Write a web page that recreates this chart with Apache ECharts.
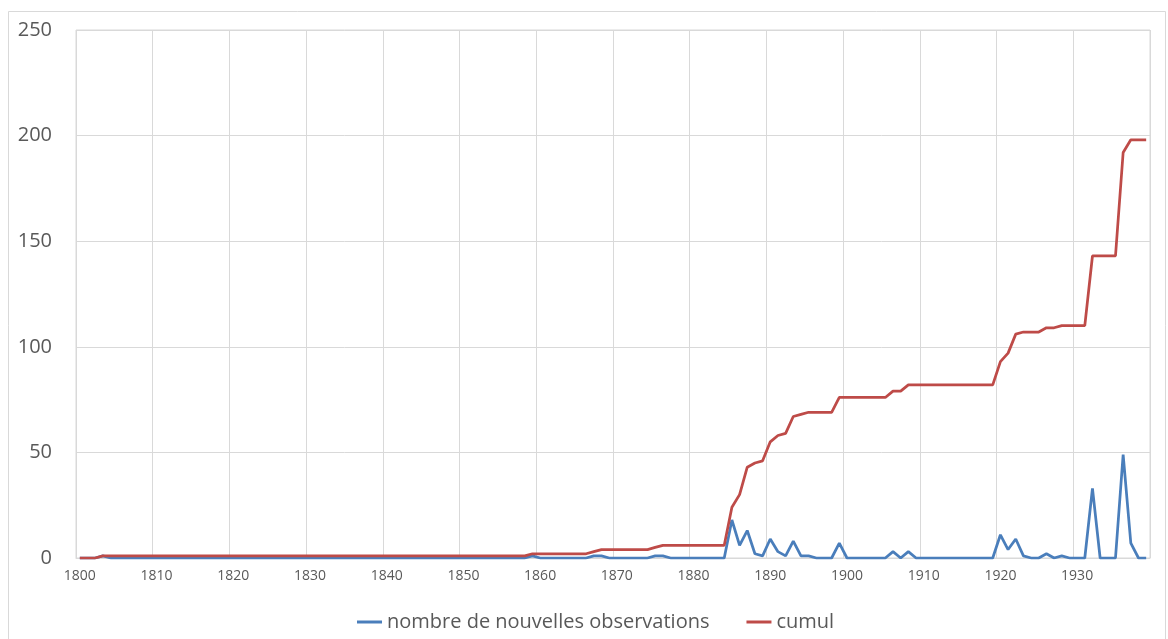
<!DOCTYPE html>
<html>
<head>
<meta charset="utf-8">
<script src="https://cdn.jsdelivr.net/npm/echarts@6/dist/echarts.min.js"></script>
<style>
html,body{margin:0;padding:0;background:#fff;}
#chart{width:1168px;height:639px;}
</style>
</head>
<body>
<div id="chart"></div>
<script>
// Categories: years 1800..1939
var years = [];
for (var y = 1800; y <= 1939; y++) years.push(String(y));

var seriesNames = ['nombre de nouvelles observations', 'cumul'];

// nombre de nouvelles observations (one value per year, 1800..1939)
var nouvelles = [
  0,0,0,1,0,0,0,0,0,0,      // 1800s
  0,0,0,0,0,0,0,0,0,0,      // 1810s
  0,0,0,0,0,0,0,0,0,0,      // 1820s
  0,0,0,0,0,0,0,0,0,0,      // 1830s
  0,0,0,0,0,0,0,0,0,0,      // 1840s
  0,0,0,0,0,0,0,0,0,1,      // 1850s
  0,0,0,0,0,0,0,1,1,0,      // 1860s
  0,0,0,0,0,1,1,0,0,0,      // 1870s
  0,0,0,0,0,18,6,13,2,1,    // 1880s
  9,3,1,8,1,1,0,0,0,7,      // 1890s
  0,0,0,0,0,0,3,0,3,0,      // 1900s
  0,0,0,0,0,0,0,0,0,0,      // 1910s
  11,4,9,1,0,0,2,0,1,0,     // 1920s
  0,0,33,0,0,0,49,7,0,0     // 1930s
];

// cumul (one value per year, 1800..1939)
var cumul = [
  0,0,0,1,1,1,1,1,1,1,
  1,1,1,1,1,1,1,1,1,1,
  1,1,1,1,1,1,1,1,1,1,
  1,1,1,1,1,1,1,1,1,1,
  1,1,1,1,1,1,1,1,1,1,
  1,1,1,1,1,1,1,1,1,2,
  2,2,2,2,2,2,2,3,4,4,
  4,4,4,4,4,5,6,6,6,6,
  6,6,6,6,6,24,30,43,45,46,
  55,58,59,67,68,69,69,69,69,76,
  76,76,76,76,76,76,79,79,82,82,
  82,82,82,82,82,82,82,82,82,82,
  93,97,106,107,107,107,109,109,110,110,
  110,110,143,143,143,143,192,198,198,198
];

var chart = echarts.init(document.getElementById('chart'), null, {renderer: 'canvas'});
var FONT = '"Open Sans", "DejaVu Sans", sans-serif';
chart.setOption({
  animation: false,
  backgroundColor: '#ffffff',
  graphic: [{
    type: 'rect',
    shape: {x: 8.5, y: 11.5, width: 1157, height: 640},
    style: {fill: 'none', stroke: '#D9D9D9', lineWidth: 1},
    silent: true
  }],
  grid: {left: 76, right: 18, top: 30, bottom: 81, containLabel: false,
         show: true, borderColor: '#D9D9D9', borderWidth: 1, backgroundColor: 'transparent'},
  legend: {
    left: 352,
    top: 607,
    icon: 'rect',
    itemWidth: 25,
    itemHeight: 3,
    itemGap: 37,
    textStyle: {fontFamily: FONT, fontSize: 20, color: '#595959'},
    data: seriesNames
  },
  xAxis: {
    type: 'category',
    data: years,
    boundaryGap: true,
    axisLine: {show: true, lineStyle: {color: '#D9D9D9', width: 1}},
    axisTick: {show: false},
    axisLabel: {interval: 9, fontFamily: FONT, fontSize: 14, color: '#595959', margin: 11},
    splitLine: {show: true, interval: 9, lineStyle: {color: '#D9D9D9', width: 1}}
  },
  yAxis: {
    type: 'value',
    min: 0,
    max: 250,
    interval: 50,
    axisLine: {show: false},
    axisTick: {show: false},
    axisLabel: {fontFamily: FONT, fontSize: 20, color: '#595959', margin: 24},
    splitLine: {show: true, lineStyle: {color: '#D9D9D9', width: 1}}
  },
  series: [
    {
      name: seriesNames[0],
      type: 'line',
      data: nouvelles,
      symbol: 'none',
      showSymbol: false,
      lineStyle: {color: '#4A7EBB', width: 2.75},
      itemStyle: {color: '#4A7EBB'}
    },
    {
      name: seriesNames[1],
      type: 'line',
      data: cumul,
      symbol: 'none',
      showSymbol: false,
      lineStyle: {color: '#BE4B48', width: 2.75},
      itemStyle: {color: '#BE4B48'}
    }
  ]
});
</script>
</body>
</html>
